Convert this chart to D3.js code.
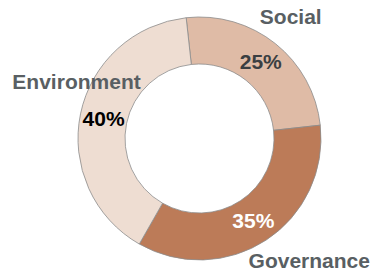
<!DOCTYPE html>
<html>
<head>
<meta charset="utf-8">
<script src="https://cdn.jsdelivr.net/npm/d3@7"></script>
<style>
  html, body { margin: 0; padding: 0; background: #fff; }
  svg { display: block; }
  text { font-family: "Liberation Sans", Arial, sans-serif; font-weight: bold; }
</style>
</head>
<body>
<svg id="chart" width="373" height="274"></svg>
<script>
// data
const categories = ['Social', 'Governance', 'Environment'];
const shares = [25, 35, 40];
const sliceColors = ['#dfbba6', '#bc7b58', '#eeddd2'];
const pctColors = ['#3b3f42', '#ffffff', '#000000'];

// label nudges away from slice centroid
const nameOffset = {
    Social: [30, -45],
    Governance: [56, 40],
    Environment: [-27, -37]
};

function chart(element) {
    const cx = 199.5, cy = 138.5;
    const svg = d3.select(element);
    const g = svg.append('g').attr('transform', `translate(${cx},${cy})`);

    let arcGenerator = d3.arc()
        .innerRadius(74.5)
        .outerRadius(121.5);

    const start = -6.3 * Math.PI / 180;
    let pie = d3.pie()
        .sort(null)
        .startAngle(start)
        .endAngle(start + 2 * Math.PI)
        .value(d => d.value);

    const data = categories.map((c, i) => ({ label: c, value: shares[i], i: i }));
    const arcs = pie(data);

    g.selectAll('path')
        .data(arcs)
        .join('path')
        .attr('d', arcGenerator)
        .attr('fill', d => sliceColors[d.data.i])
        .attr('stroke', '#8c8c8c')
        .attr('stroke-width', 0.8);

    // percentages
    g.selectAll('text.pct')
        .data(arcs)
        .join('text')
        .attr('class', 'pct')
        .each(function(d) {
            const c = arcGenerator.centroid(d);
            d3.select(this)
                .attr('x', c[0])
                .attr('y', c[1])
                .attr('dy', '0.35em')
                .attr('text-anchor', 'middle')
                .attr('font-size', 21)
                .attr('fill', pctColors[d.data.i])
                .text(d.data.value + '%');
        });

    // category names
    g.selectAll('text.name')
        .data(arcs)
        .join('text')
        .attr('class', 'name')
        .each(function(d) {
            const c = arcGenerator.centroid(d);
            const o = nameOffset[d.data.label];
            d3.select(this)
                .attr('x', c[0] + o[0])
                .attr('y', c[1] + o[1])
                .attr('dy', '0.35em')
                .attr('text-anchor', 'middle')
                .attr('font-size', 21)
                .attr('fill', '#595f63')
                .text(d.data.label);
        });
}

chart(document.getElementById('chart'));
</script>
</body>
</html>
